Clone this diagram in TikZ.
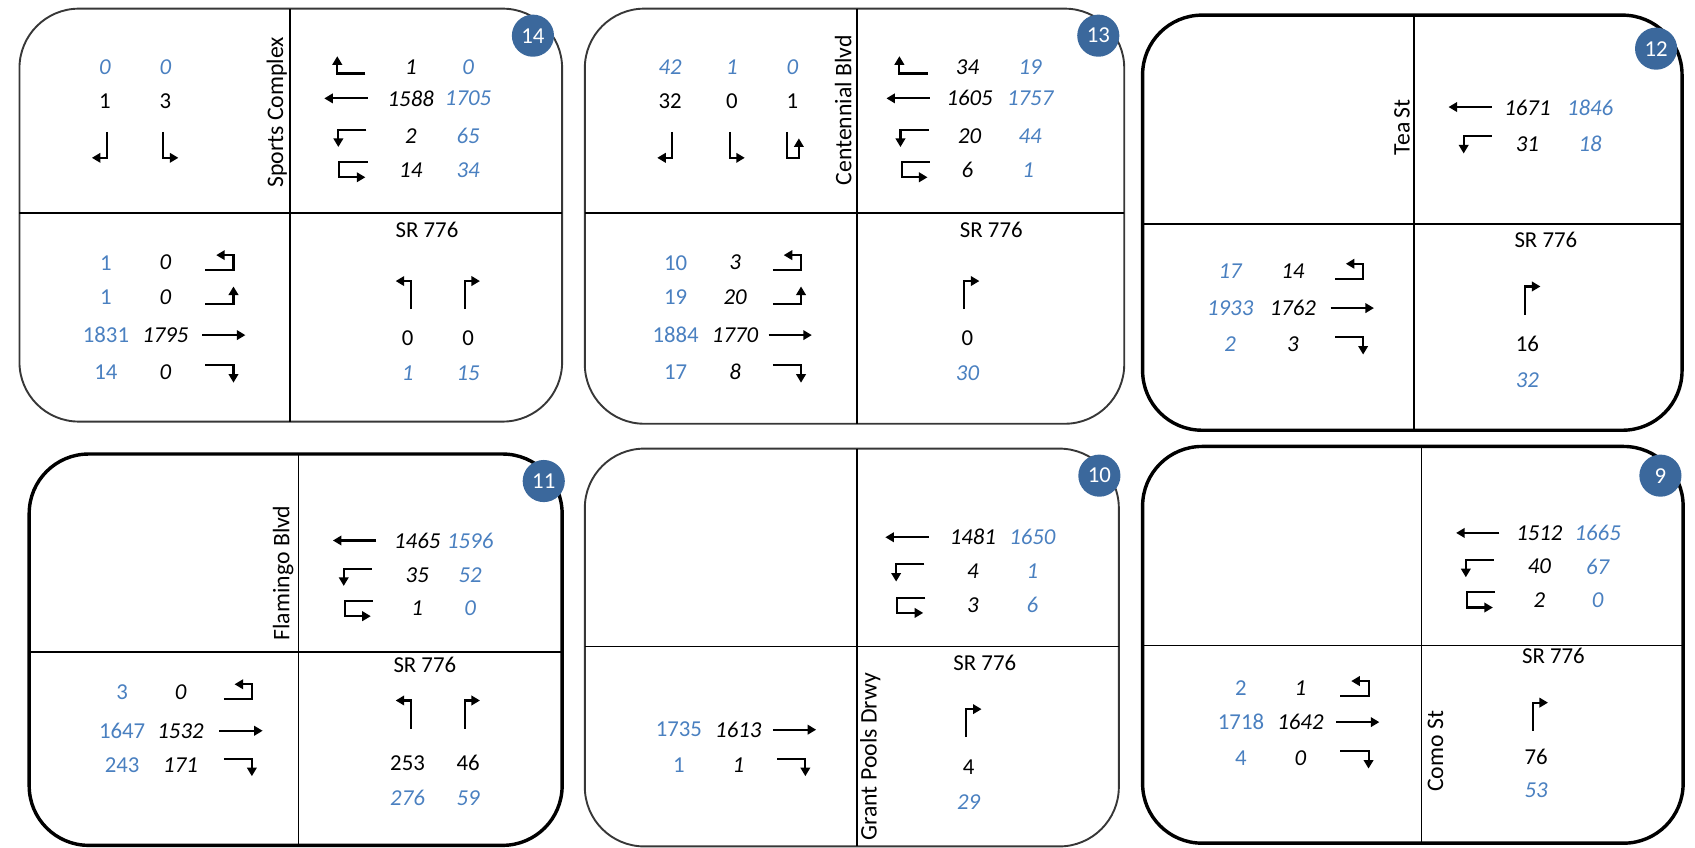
\documentclass[tikz,border=0pt]{standalone}
\usepackage{fontspec}
\setmainfont{Carlito}
\usetikzlibrary{arrows.meta}
\definecolor{badgeblue}{RGB}{59,104,156}
\definecolor{volblue}{RGB}{74,128,192}
\definecolor{framegrey}{RGB}{55,55,55}
\newcommand{\numfont}{\fontsize{12}{14}\selectfont}

\begin{document}
\begin{tikzpicture}[x=0.02cm, y=-0.02cm,
    panel/.style={draw=framegrey, line width=1pt, rounded corners=1.1cm},
    boldpanel/.style={panel, draw=black, line width=1.8pt},
    divider/.style={draw=black, line width=0.9pt},
    badge/.style={circle, fill=badgeblue, text=white, minimum size=0.78cm,
        inner sep=0pt, font=\fontsize{12}{14}\selectfont},
    vol/.style={inner sep=0pt, font=\numfont},
    voli/.style={vol, font=\numfont\itshape},
    bvol/.style={vol, text=volblue},
    bvoli/.style={voli, text=volblue},
    street/.style={inner sep=0pt, font=\fontsize{12.5}{14}\selectfont, rotate=90},
    route/.style={inner sep=0pt, font=\numfont},
    turn/.style={line width=1.1pt, -{Triangle[length=4.5pt,width=5pt]}},
    wbthru/.pic={\draw[turn] (20,0) -- (-20,0);},
    wbrt/.pic={\draw[turn] (14,6) -- (-12,6) -- (-12,-10);},
    wblt/.pic={\draw[turn] (14,-6) -- (-12,-6) -- (-12,10);},
    wbut/.pic={\draw[turn] (14,-7) -- (-12,-7) -- (-12,7) -- (12,7);},
    ebthru/.pic={\draw[turn] (-20,0) -- (20,0);},
    ebrt/.pic={\draw[turn] (-14,-6) -- (12,-6) -- (12,10);},
    eblt/.pic={\draw[turn] (-14,6) -- (12,6) -- (12,-10);},
    ebut/.pic={\draw[turn] (-14,7) -- (12,7) -- (12,-7) -- (-4,-7);},
    sbrt/.pic={\draw[turn] (2,-12) -- (2,12) -- (-12,12);},
    sblt/.pic={\draw[turn] (-2,-12) -- (-2,12) -- (12,12);},
    sbut/.pic={\draw[turn] (-5,-12) -- (-5,12) -- (6,12) -- (6,-6);},
    nblt/.pic={\draw[turn] (3,14) -- (3,-12) -- (-11,-12);},
    nbrt/.pic={\draw[turn] (-3,14) -- (-3,-12) -- (11,-12);}
]
    \useasboundingbox (0,0) rectangle (1568,784);

    % ---- 14: Sports Complex
    \draw[panel] (18,8) rectangle (520,390);
    \draw[divider] (268,8) -- (268,390);
    \draw[divider] (18,197) -- (520,197);
    \node[badge] (c14) at (493,33) {14};
    \node[street] (st14) at (256,104) {Sports Complex};
    \node[route] (sr14) at (395,213) {SR 776};
    \node[bvoli] (s14a) at (97,62) {0};
    \node[bvoli] (s14b) at (153,62) {0};
    \node[vol] (s14c) at (97,94) {1};
    \node[vol] (s14d) at (153,94) {3};
    \pic at (97,134) {sbrt};
    \pic at (153,134) {sblt};
    \pic at (324,62) {wbrt};
    \pic at (320,91) {wbthru};
    \pic at (325,126) {wblt};
    \pic at (326,157) {wbut};
    \node[voli] (w14a) at (380,62) {1};
    \node[voli] (w14b) at (380,91) {1588};
    \node[voli] (w14c) at (380,126) {2};
    \node[voli] (w14d) at (380,157) {14};
    \node[bvoli] (w14e) at (433,62) {0};
    \node[bvoli] (w14f) at (433,91) {1705};
    \node[bvoli] (w14g) at (433,126) {65};
    \node[bvoli] (w14h) at (433,157) {34};
    \node[bvol] (e14a) at (98,243) {1};
    \node[bvol] (e14b) at (98,275) {1};
    \node[bvol] (e14c) at (98,310) {1831};
    \node[bvol] (e14d) at (98,344) {14};
    \node[voli] (e14e) at (153,243) {0};
    \node[voli] (e14f) at (153,275) {0};
    \node[voli] (e14g) at (153,310) {1795};
    \node[voli] (e14h) at (153,344) {0};
    \pic at (204,243) {ebut};
    \pic at (204,275) {eblt};
    \pic at (207,310) {ebthru};
    \pic at (204,344) {ebrt};
    \pic at (377,272) {nblt};
    \pic at (433,272) {nbrt};
    \node[vol] (n14a) at (377,313) {0};
    \node[vol] (n14b) at (433,313) {0};
    \node[bvoli] (n14c) at (377,345) {1};
    \node[bvoli] (n14d) at (433,345) {15};

    % ---- 13: Centennial Blvd
    \draw[panel] (541,8) rectangle (1040,392);
    \draw[divider] (793,8) -- (793,392);
    \draw[divider] (541,197) -- (1040,197);
    \node[badge] (c13) at (1016,33) {13};
    \node[street] (st13) at (780,102) {Centennial Blvd};
    \node[route] (sr13) at (917,213) {SR 776};
    \node[bvoli] (s13a) at (620,62) {42};
    \node[bvoli] (s13b) at (677,62) {1};
    \node[bvoli] (s13c) at (733,62) {0};
    \node[vol] (s13d) at (620,94) {32};
    \node[vol] (s13e) at (677,94) {0};
    \node[vol] (s13f) at (733,94) {1};
    \pic at (620,134) {sbrt};
    \pic at (677,134) {sblt};
    \pic at (733,134) {sbut};
    \pic at (844,62) {wbrt};
    \pic at (840,91) {wbthru};
    \pic at (845,126) {wblt};
    \pic at (846,157) {wbut};
    \node[voli] (w13a) at (895,62) {34};
    \node[voli] (w13b) at (897,91) {1605};
    \node[voli] (w13c) at (897,126) {20};
    \node[voli] (w13d) at (895,157) {6};
    \node[bvoli] (w13e) at (953,62) {19};
    \node[bvoli] (w13f) at (953,91) {1757};
    \node[bvoli] (w13g) at (953,126) {44};
    \node[bvoli] (w13h) at (951,157) {1};
    \node[bvol] (e13a) at (625,243) {10};
    \node[bvol] (e13b) at (625,275) {19};
    \node[bvol] (e13c) at (625,310) {1884};
    \node[bvol] (e13d) at (625,344) {17};
    \node[voli] (e13e) at (680,243) {3};
    \node[voli] (e13f) at (680,275) {20};
    \node[voli] (e13g) at (680,310) {1770};
    \node[voli] (e13h) at (680,344) {8};
    \pic at (729,243) {ebut};
    \pic at (729,275) {eblt};
    \pic at (731,310) {ebthru};
    \pic at (729,344) {ebrt};
    \pic at (895,272) {nbrt};
    \node[vol] (n13a) at (895,313) {0};
    \node[bvoli] (n13b) at (895,345) {30};

    % ---- 12: Tea St
    \draw[boldpanel] (1057,14) rectangle (1556,398);
    \draw[divider] (1308,14) -- (1308,398);
    \draw[divider] (1057,207) -- (1556,207);
    \node[badge] (c12) at (1532,45) {12};
    \node[street] (st12) at (1297,118) {Tea\,St};
    \node[route] (sr12) at (1430,222) {SR 776};
    \pic at (1360,99) {wbthru};
    \pic at (1366,132) {wblt};
    \node[voli] (w12a) at (1413,100) {1671};
    \node[voli] (w12b) at (1413,133) {31};
    \node[bvoli] (w12c) at (1471,100) {1846};
    \node[bvoli] (w12d) at (1471,133) {18};
    \node[bvoli] (e12a) at (1138,251) {17};
    \node[bvoli] (e12b) at (1138,285) {1933};
    \node[bvoli] (e12c) at (1138,318) {2};
    \node[voli] (e12d) at (1196,251) {14};
    \node[voli] (e12e) at (1196,285) {1762};
    \node[voli] (e12f) at (1196,318) {3};
    \pic at (1249,251) {ebut};
    \pic at (1251,285) {ebthru};
    \pic at (1249,318) {ebrt};
    \pic at (1414,277) {nbrt};
    \node[vol] (n12a) at (1413,318) {16};
    \node[bvoli] (n12b) at (1413,352) {32};

    % ---- 11: Flamingo Blvd
    \draw[boldpanel] (27,420) rectangle (520,782);
    \draw[divider] (276,420) -- (276,782);
    \draw[divider] (27,603) -- (520,603);
    \node[badge] (c11) at (503,445) {11};
    \node[street] (st11) at (262,530) {Flamingo Blvd};
    \node[route] (sr11) at (393,615) {SR 776};
    \pic at (328,500) {wbthru};
    \pic at (330,532) {wblt};
    \pic at (331,563) {wbut};
    \node[voli] (w11a) at (386,500) {1465};
    \node[voli] (w11b) at (386,532) {35};
    \node[voli] (w11c) at (386,563) {1};
    \node[bvoli] (w11d) at (435,500) {1596};
    \node[bvoli] (w11e) at (435,532) {52};
    \node[bvoli] (w11f) at (435,563) {0};
    \node[bvol] (e11a) at (113,640) {3};
    \node[bvol] (e11b) at (113,676) {1647};
    \node[bvol] (e11c) at (113,708) {243};
    \node[voli] (e11d) at (167,640) {0};
    \node[voli] (e11e) at (167,676) {1532};
    \node[voli] (e11f) at (167,708) {171};
    \pic at (221,640) {ebut};
    \pic at (223,676) {ebthru};
    \pic at (221,708) {ebrt};
    \pic at (377,660) {nblt};
    \pic at (433,660) {nbrt};
    \node[vol] (n11a) at (377,706) {253};
    \node[vol] (n11b) at (433,706) {46};
    \node[bvoli] (n11c) at (377,738) {276};
    \node[bvoli] (n11d) at (433,738) {59};

    % ---- 10: Grant Pools Drwy
    \draw[panel] (541,415) rectangle (1035,783);
    \draw[divider] (793,415) -- (793,783);
    \draw[divider] (541,598) -- (1035,598);
    \node[badge] (c10) at (1017,440) {10};
    \node[street] (st10) at (805,700) {Grant Pools Drwy};
    \node[route] (sr10) at (911,613) {SR 776};
    \pic at (839,497) {wbthru};
    \pic at (841,528) {wblt};
    \pic at (842,560) {wbut};
    \node[voli] (w10a) at (900,497) {1481};
    \node[voli] (w10b) at (900,528) {4};
    \node[voli] (w10c) at (900,560) {3};
    \node[bvoli] (w10d) at (955,497) {1650};
    \node[bvoli] (w10e) at (955,528) {1};
    \node[bvoli] (w10f) at (955,560) {6};
    \node[bvol] (e10a) at (628,675) {1735};
    \node[bvol] (e10b) at (628,708) {1};
    \node[voli] (e10c) at (683,675) {1613};
    \node[voli] (e10d) at (683,708) {1};
    \pic at (735,675) {ebthru};
    \pic at (733,708) {ebrt};
    \pic at (897,668) {nbrt};
    \node[vol] (n10a) at (896,710) {4};
    \node[bvoli] (n10b) at (896,742) {29};

    % ---- 9: Como St
    \draw[boldpanel] (1057,413) rectangle (1557,780);
    \draw[divider] (1315,413) -- (1315,780);
    \draw[divider] (1057,597) -- (1557,597);
    \node[badge] (c9) at (1536,440) {9};
    \node[street] (st9) at (1328,695) {Como St};
    \node[route] (sr9) at (1437,607) {SR 776};
    \pic at (1367,493) {wbthru};
    \pic at (1368,524) {wblt};
    \pic at (1369,555) {wbut};
    \node[voli] (w9a) at (1424,493) {1512};
    \node[voli] (w9b) at (1424,524) {40};
    \node[voli] (w9c) at (1424,555) {2};
    \node[bvoli] (w9d) at (1478,493) {1665};
    \node[bvoli] (w9e) at (1478,524) {67};
    \node[bvoli] (w9f) at (1478,555) {0};
    \node[bvol] (e9a) at (1148,637) {2};
    \node[bvol] (e9b) at (1148,668) {1718};
    \node[bvol] (e9c) at (1148,701) {4};
    \node[voli] (e9d) at (1203,637) {1};
    \node[voli] (e9e) at (1203,668) {1642};
    \node[voli] (e9f) at (1203,701) {0};
    \pic at (1254,637) {ebut};
    \pic at (1256,668) {ebthru};
    \pic at (1254,701) {ebrt};
    \pic at (1421,662) {nbrt};
    \node[vol] (n9a) at (1421,700) {76};
    \node[bvoli] (n9b) at (1421,731) {53};
\end{tikzpicture}
\end{document}
